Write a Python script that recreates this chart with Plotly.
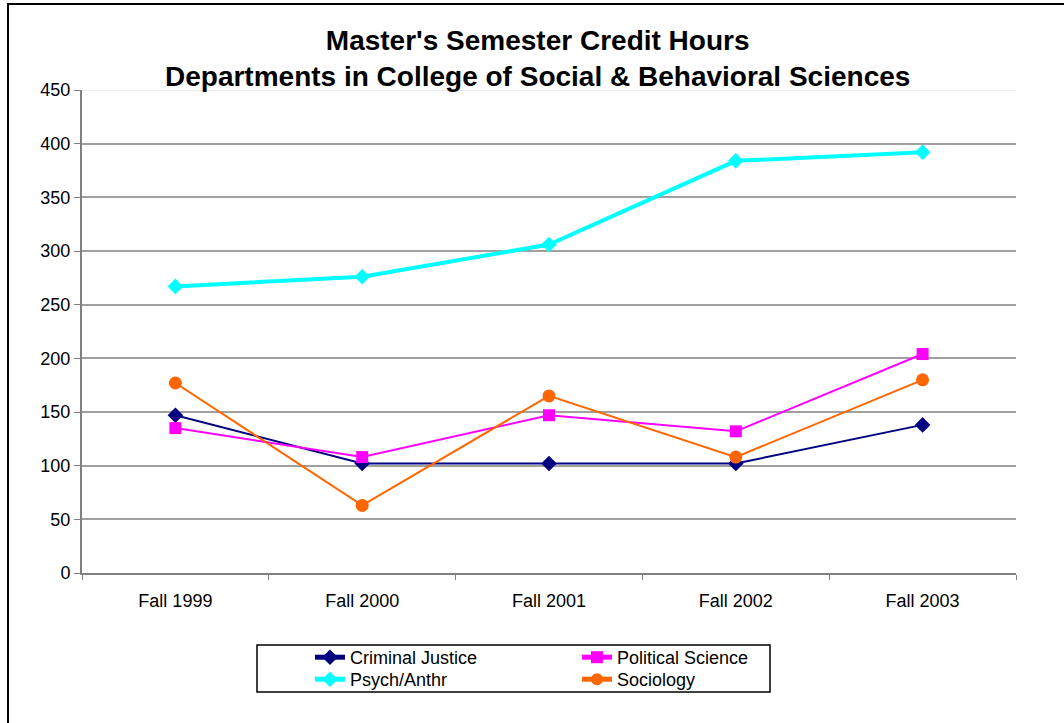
import plotly.graph_objects as go

semesters = ["Fall 1999", "Fall 2000", "Fall 2001", "Fall 2002", "Fall 2003"]
criminal_justice = [147, 102, 102, 102, 138]
political_science = [135, 108, 147, 132, 204]
psych_anthr = [267, 276, 306, 384, 392]
sociology = [177, 63, 165, 108, 180]

y_ticks = list(range(0, 451, 50))

FONT = "Liberation Sans, Arial, sans-serif"

fig = go.Figure()

fig.add_trace(go.Scatter(
    x=semesters, y=criminal_justice, name="Criminal Justice", mode="lines+markers",
    line=dict(color="#000080", width=2),
    marker=dict(symbol="diamond", size=12, color="#000080"),
    legend="legend",
))
fig.add_trace(go.Scatter(
    x=semesters, y=political_science, name="Political Science", mode="lines+markers",
    line=dict(color="#FF00FF", width=2),
    marker=dict(symbol="square", size=12, color="#FF00FF"),
    legend="legend2",
))
fig.add_trace(go.Scatter(
    x=semesters, y=psych_anthr, name="Psych/Anthr", mode="lines+markers",
    line=dict(color="#00FFFF", width=4),
    marker=dict(symbol="diamond", size=12, color="#00FFFF"),
    legend="legend3",
))
fig.add_trace(go.Scatter(
    x=semesters, y=sociology, name="Sociology", mode="lines+markers",
    line=dict(color="#FF6600", width=2),
    marker=dict(symbol="circle", size=13, color="#FF6600"),
    legend="legend4",
))

legend_style = dict(
    font=dict(family=FONT, size=18, color="black"),
    bgcolor="rgba(0,0,0,0)",
    borderwidth=0,
    orientation="v",
    xanchor="left",
    yanchor="top",
    itemsizing="constant",
)

# Legend entries laid out as a 2x2 grid (pixel positions converted to paper units)
col1_x = (310 - 82) / 934
col2_x = (577 - 82) / 934
row1_y = (573 - 639) / 483
row2_y = (573 - 661) / 483

fig.update_layout(
    width=1064,
    height=723,
    margin=dict(l=82, r=48, t=90, b=150),
    paper_bgcolor="white",
    plot_bgcolor="white",
    font=dict(family=FONT, size=18, color="black"),
    xaxis=dict(
        type="category",
        tickson="boundaries",
        ticks="outside",
        ticklen=5,
        tickcolor="#808080",
        showline=True,
        linecolor="#808080",
        linewidth=2,
        showgrid=False,
        ticklabelstandoff=10,
        tickfont=dict(family=FONT, size=18, color="black"),
        range=[-0.5, 4.5],
    ),
    yaxis=dict(
        range=[0, 450],
        tickvals=y_ticks,
        ticks="outside",
        ticklen=6,
        tickcolor="#808080",
        showline=True,
        linecolor="#808080",
        linewidth=2,
        showgrid=True,
        gridcolor="#a0a0a0",
        gridwidth=2,
        zeroline=False,
        tickfont=dict(family=FONT, size=18, color="black"),
    ),
    legend=dict(x=col1_x, y=row1_y, **legend_style),
    legend2=dict(x=col2_x, y=row1_y, **legend_style),
    legend3=dict(x=col1_x, y=row2_y, **legend_style),
    legend4=dict(x=col2_x, y=row2_y, **legend_style),
    showlegend=True,
)

# Two-line chart title
fig.add_annotation(
    text="<b>Master's Semester Credit Hours<br>Departments in College of Social & Behavioral Sciences</b>",
    xref="paper", yref="paper",
    x=(537 - 82) / 934, y=(573 - 23) / 483,
    xanchor="center", yanchor="top",
    showarrow=False,
    font=dict(family=FONT, size=28, color="black"),
)

# Softer top gridline, legend frame and outer chart border
fig.add_shape(type="line", xref="paper", yref="y", x0=0, x1=1, y0=450, y1=450,
              line=dict(color="#ececec", width=2), layer="between")
fig.add_shape(type="rect", xref="paper", yref="paper",
              x0=(257 - 82) / 934, x1=(770 - 82) / 934,
              y0=(573 - 692) / 483, y1=(573 - 645) / 483,
              line=dict(color="black", width=1.5), fillcolor="rgba(0,0,0,0)")
fig.add_shape(type="rect", xref="paper", yref="paper",
              x0=(8 - 82) / 934, x1=(1075 - 82) / 934,
              y0=(573 - 735) / 483, y1=(573 - 4) / 483,
              line=dict(color="black", width=2), fillcolor="rgba(0,0,0,0)")

fig.write_html("out.html")
